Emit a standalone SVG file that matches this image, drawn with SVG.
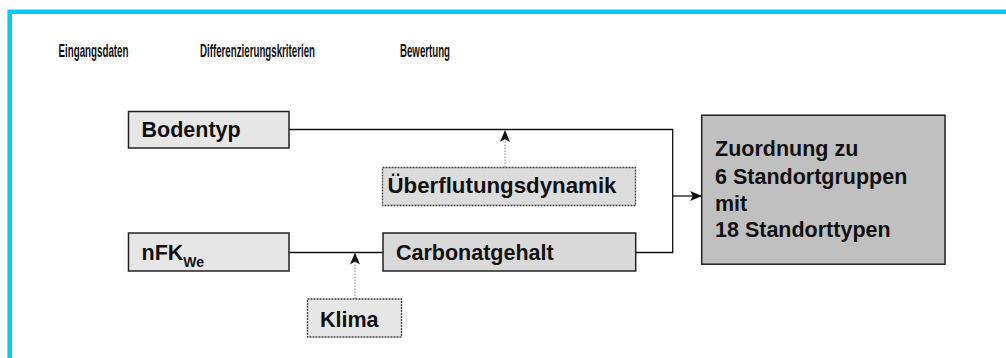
<svg xmlns="http://www.w3.org/2000/svg" width="1006" height="358" viewBox="0 0 1006 358">
<style>
.hdr{font-family:"Liberation Sans",Arial,sans-serif;font-weight:bold;font-size:18px;fill:#111}
.lbl{font-family:"Liberation Sans",Arial,sans-serif;font-weight:bold;font-size:21.5px;fill:#111}
.solid{stroke:#222;stroke-width:1.5}
.dash{stroke:#444;stroke-width:1.3;stroke-dasharray:2 1}
.wire{fill:none;stroke:#111;stroke-width:1.3}
.dot{fill:none;stroke:#999;stroke-width:1.2;stroke-dasharray:1.5 1.5}
</style>
<defs>
<marker id="ah" markerUnits="userSpaceOnUse" markerWidth="12" markerHeight="10" viewBox="0 0 12 10" refX="11" refY="5" orient="auto">
<path d="M0,0 L12,5 L0,10 L3,5 z" fill="#111"/>
</marker>
</defs>
<rect x="0" y="0" width="1006" height="358" fill="#fff"/>
<path d="M9.7,360 L9.7,11.7 L1010,11.7" fill="none" stroke="#00CCFF" stroke-width="4.6"/>
<g id="headers">
<text class="hdr" transform="translate(58.5,56.7) scale(0.54,1)" x="0" y="0" textLength="129.6" lengthAdjust="spacingAndGlyphs">Eingangsdaten</text>
<text class="hdr" transform="translate(200,56.7) scale(0.54,1)" x="0" y="0" textLength="213" lengthAdjust="spacingAndGlyphs">Differenzierungskriterien</text>
<text class="hdr" transform="translate(400,56.7) scale(0.54,1)" x="0" y="0" textLength="92.6" lengthAdjust="spacingAndGlyphs">Bewertung</text>
</g>
<g id="connectors">
<polyline class="wire" points="289,129.5 672.7,129.5 672.7,252.5 636,252.5"/>
<line class="wire" x1="289" y1="252.5" x2="383" y2="252.5"/>
<line class="wire" x1="672.7" y1="196" x2="701" y2="196" marker-end="url(#ah)"/>
<line class="dot" x1="505" y1="167" x2="505" y2="131" marker-end="url(#ah)"/>
<line class="dot" x1="355" y1="299" x2="355" y2="253.5" marker-end="url(#ah)"/>
</g>
<g id="bodentyp">
<rect class="solid" x="128.5" y="111.5" width="160.5" height="36.5" fill="#e6e6e6"/>
<text class="lbl" x="141.5" y="137">Bodentyp</text>
</g>
<g id="ueberflutung">
<rect class="dash" x="382.5" y="167.5" width="253" height="38" fill="#dcdcdc"/>
<text class="lbl" x="387.5" y="193" textLength="229" lengthAdjust="spacingAndGlyphs">Überflutungsdynamik</text>
</g>
<g id="nfk">
<rect class="solid" x="128.5" y="233" width="160.5" height="38" fill="#e6e6e6"/>
<text class="lbl" x="141.5" y="260">nFK<tspan font-size="14" dy="6.5">We</tspan></text>
</g>
<g id="carbonat">
<rect class="solid" x="383" y="233" width="252.7" height="38" fill="#d9d9d9"/>
<text class="lbl" x="396" y="260">Carbonatgehalt</text>
</g>
<g id="klima">
<rect class="dash" x="307.5" y="299" width="94" height="38" fill="#e6e6e6"/>
<text class="lbl" x="320" y="326.5">Klima</text>
</g>
<g id="bewertung">
<rect class="solid" x="701.7" y="115.2" width="243.3" height="149" fill="#c0c0c0"/>
<text class="lbl" x="715" y="156">Zuordnung zu</text>
<text class="lbl" x="715" y="184">6 Standortgruppen</text>
<text class="lbl" x="715" y="210.5">mit</text>
<text class="lbl" x="715" y="236.5">18 Standorttypen</text>
</g>
</svg>
